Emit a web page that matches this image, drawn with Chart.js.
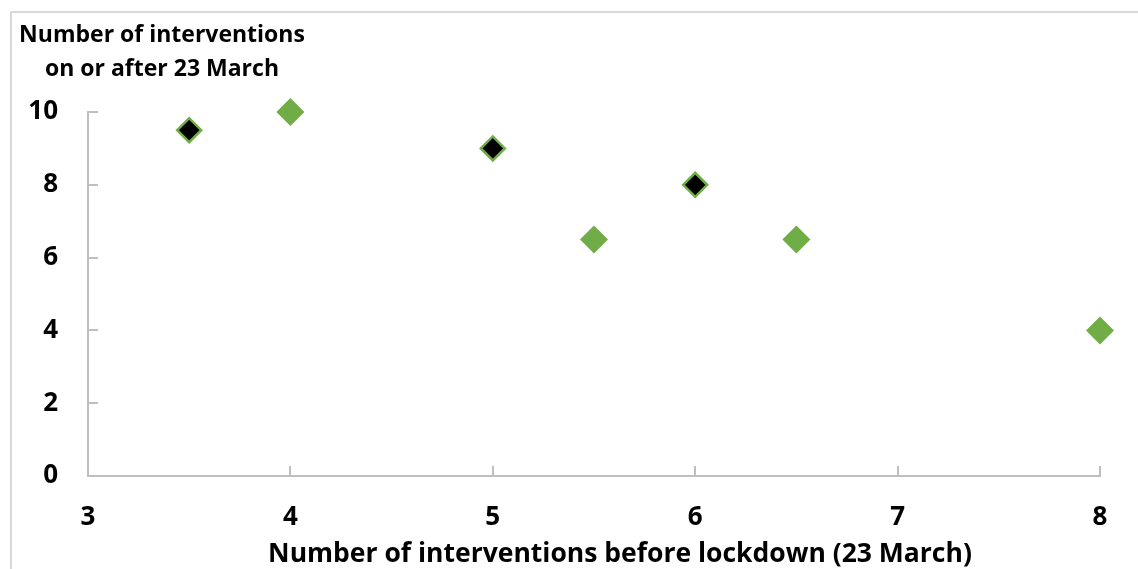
<!DOCTYPE html>
<html>
<head>
<meta charset="utf-8">
<script src="https://cdn.jsdelivr.net/npm/chart.js@4"></script>
<style>
  html, body { margin: 0; padding: 0; background: #fff; }
  #wrap { position: relative; width: 1138px; height: 569px; overflow: hidden; }
  #frame { position: absolute; left: 10px; top: 11px; width: 1200px; height: 600px; border: 2px solid #d9d9d9; }
  #c { position: absolute; left: 0; top: 0; }
</style>
</head>
<body>
<div id="wrap">
  <div id="frame"></div>
  <canvas id="c" width="1138" height="569"></canvas>
</div>
<script>
// black markers (green outline)
var blackX = [3.5, 5, 6];
var blackY = [9.5, 9, 8];
// plain green markers
var greenX = [4, 5.5, 6.5, 8];
var greenY = [10, 6.5, 6.5, 4];

var xTicks = [3, 4, 5, 6, 7, 8];
var yTicks = [0, 2, 4, 6, 8, 10];

var yTitle = ['Number of interventions', 'on or after 23 March'];
var xTitle = 'Number of interventions before lockdown (23 March)';

var green = '#70ad47';
var axisGrey = '#bfbfbf';
var font = '"Open Sans"';

function pts(xs, ys) {
    return xs.map(function(x, i) { return {x: x, y: ys[i]}; });
}

var extras = {
    id: 'extras',
    afterDraw: function(chart) {
        var ctx = chart.ctx;
        var xs = chart.scales.x, ys = chart.scales.y;
        var a = chart.chartArea;
        ctx.save();
        // inside tick marks
        ctx.strokeStyle = axisGrey;
        ctx.lineWidth = 2;
        ctx.beginPath();
        xTicks.forEach(function(v) {
            if (v === xTicks[0]) return;
            var px = Math.round(xs.getPixelForValue(v));
            ctx.moveTo(px, a.bottom);
            ctx.lineTo(px, a.bottom - 10);
        });
        yTicks.forEach(function(v) {
            if (v === yTicks[0]) return;
            var py = Math.round(ys.getPixelForValue(v));
            ctx.moveTo(a.left, py);
            ctx.lineTo(a.left + 10, py);
        });
        ctx.stroke();

        // titles
        ctx.fillStyle = '#000';
        ctx.textAlign = 'center';
        ctx.textBaseline = 'middle';
        ctx.font = 'bold 23px ' + font;
        ctx.fillText(yTitle[0], 162, 35);
        ctx.fillText(yTitle[1], 162, 69);
        ctx.font = 'bold 26.5px ' + font;
        ctx.fillText(xTitle, 620, 554);
        ctx.restore();
    }
};

new Chart(document.getElementById('c'), {
    type: 'scatter',
    data: {
        datasets: [{
            data: pts(greenX, greenY),
            pointStyle: 'rectRot',
            pointRadius: 14,
            pointHoverRadius: 14,
            backgroundColor: green,
            borderColor: green,
            borderWidth: 0,
            clip: false
        }, {
            data: pts(blackX, blackY),
            pointStyle: 'rectRot',
            pointRadius: 12,
            pointHoverRadius: 12,
            backgroundColor: '#000',
            borderColor: green,
            borderWidth: 2.5,
            clip: false
        }]
    },
    options: {
        responsive: false,
        animation: false,
        events: [],
        layout: { padding: { left: 0, top: 112, right: 38, bottom: 0 } },
        plugins: { legend: { display: false }, tooltip: { enabled: false } },
        scales: {
            x: {
                type: 'linear',
                min: 3, max: 8,
                afterBuildTicks: function(s) { s.ticks = xTicks.map(function(v) { return {value: v}; }); },
                afterFit: function(s) { s.height = 93; },
                grid: { display: false, drawTicks: false },
                border: { display: true, color: axisGrey, width: 2 },
                ticks: { color: '#000', padding: 26, font: { family: font, size: 26, weight: 'bold' } }
            },
            y: {
                type: 'linear',
                min: 0, max: 10,
                afterBuildTicks: function(s) { s.ticks = yTicks.map(function(v) { return {value: v}; }); },
                afterFit: function(s) { s.width = 88; },
                grid: { display: false, drawTicks: false },
                border: { display: true, color: axisGrey, width: 2 },
                ticks: { color: '#000', padding: 30, font: { family: font, size: 26, weight: 'bold' } }
            }
        }
    },
    plugins: [extras]
});
</script>
</body>
</html>
